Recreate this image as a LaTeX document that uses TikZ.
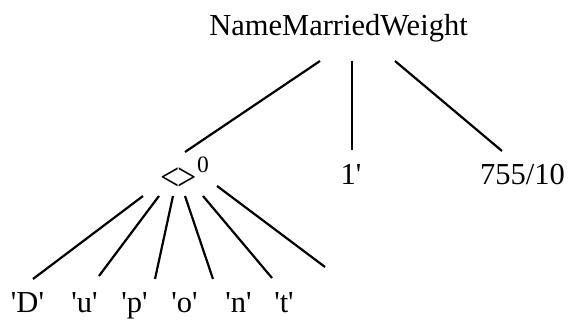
\documentclass[tikz,border=0pt]{standalone}
\usepackage{fontspec}
\newfontfamily\treefont{Liberation Serif}

\begin{document}
\begin{tikzpicture}[
    x=1pt, y=-1pt,
    every node/.style={
        anchor=base,
        inner sep=0pt,
        font=\treefont\fontsize{30.5}{36}\selectfont
    },
    edge/.style={line width=2.2pt}
]
\useasboundingbox (0,0) rectangle (571,320);
% Niveau 0
\node (root) at (338.5,36) {NameMarriedWeight};
% Niveau 1
\node (lt)   at (184.6,189) {\raisebox{-2pt}{\scalebox{1.12}[1.3]{<\kern-1.5pt>}}\raisebox{16pt}{\fontsize{23.5}{24}\selectfont 0}};
\node (one)  at (351,185)   {1'};
\node (frac) at (522.5,185) {755/10};
% Niveau 2
\node (cD) at (27.5,313)  {'D'};
\node (cu) at (84.5,313)  {'u'};
\node (cp) at (134.5,313) {'p'};
\node (co) at (184.5,313) {'o'};
\node (cn) at (238.5,313) {'n'};
\node (ct) at (284,313)   {'t'};
% Connexions racine
\draw[edge] ([xshift=-18.5pt,yshift=-25pt]root.base) -- ([xshift=0.4pt,yshift=37pt]lt.base);
\draw[edge] ([xshift=13.5pt,yshift=-25pt]root.base)  -- ([xshift=1pt,yshift=35pt]one.base);
\draw[edge] ([xshift=56.5pt,yshift=-25pt]root.base)  -- ([xshift=-20.5pt,yshift=34pt]frac.base);
% Connexions <>
\draw[edge] ([xshift=-41.6pt,yshift=-7pt]lt.base) -- ([xshift=5.5pt,yshift=34pt]cD.base);
\draw[edge] ([xshift=-25.6pt,yshift=-7pt]lt.base) -- ([xshift=14.5pt,yshift=37pt]cu.base);
\draw[edge] ([xshift=-11.6pt,yshift=-7pt]lt.base) -- ([xshift=20.5pt,yshift=34pt]cp.base);
\draw[edge] ([xshift=0.4pt,yshift=-7pt]lt.base)   -- ([xshift=28.5pt,yshift=34pt]co.base);
\draw[edge] ([xshift=18.4pt,yshift=-7pt]lt.base)  -- ([xshift=33.5pt,yshift=35pt]cn.base);
\draw[edge] ([xshift=32.4pt,yshift=3pt]lt.base)   -- ([xshift=41pt,yshift=46pt]ct.base);
\end{tikzpicture}
\end{document}
